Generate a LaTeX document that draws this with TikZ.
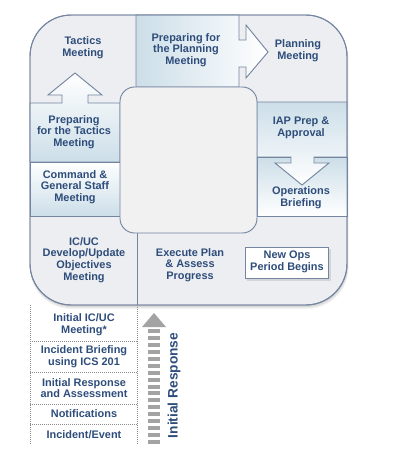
\documentclass[tikz,border=0pt]{standalone}
\usepackage{fontspec}
\setmainfont{Liberation Sans}
\definecolor{txt}{HTML}{2E4D7B}
\definecolor{edge}{HTML}{7485A0}
\definecolor{bg}{HTML}{EDEEF1}
\definecolor{innerc}{HTML}{F1F1F2}
\definecolor{lblue}{HTML}{CCDEE8}
\definecolor{arr}{HTML}{A3A3A3}
\definecolor{dotc}{HTML}{8C8C8C}
\begin{document}
\begin{tikzpicture}[x=0.75pt,y=-0.75pt,
  lbl/.style={text=txt,font=\fontsize{8.2}{8.8}\selectfont\bfseries,align=center,inner sep=0pt},
  edgeline/.style={draw=edge,line width=0.7pt},
  shadebox/.style={edgeline,top color=white,bottom color=lblue},
  shadeboxdown/.style={edgeline,top color=lblue,bottom color=white},
  dotline/.style={draw=dotc,line width=0.5pt,dash pattern=on 0.6pt off 0.9pt}]
\useasboundingbox (0,0) rectangle (396,459);
% soft shadow of the outer shape
\foreach \o/\op in {4/0.04,3/0.05,2/0.06,1/0.07}
  \fill[black,opacity=\op,rounded corners=31pt] (30,{15+\o}) rectangle ({347+\o*0.4},{305+\o});
% outer rounded square
\path[edgeline,fill=bg,rounded corners=31pt] (30,15) rectangle (347,305);
% Operations Briefing box (under the IAP arrow)
\path[shadeboxdown] (257,157) rectangle (347,216);
% IAP Prep box with down arrow
\path[shadeboxdown] (257,102) -- (347,102) -- (347,157) -- (314,157) -- (314,163) -- (329,163)
  -- (302,185) -- (275,163) -- (291,163) -- (291,157) -- (257,157) -- cycle;
% Preparing for the Planning Meeting, with right arrow
\path[edgeline,left color=lblue,right color=white] (136,15) -- (239,15) -- (239,40) -- (246,40) -- (246,25)
  -- (268,52) -- (246,78) -- (246,67) -- (239,67) -- (239,87) -- (136,87) -- cycle;
% Command & General Staff box
\path[shadebox] (30,162) rectangle (120,216);
% Preparing for the Tactics Meeting with up arrow
\path[shadebox] (30,162) -- (30,103) -- (62,103) -- (62,95) -- (48,95) -- (75,73) -- (102,95)
  -- (88,95) -- (88,103) -- (120,103) -- (120,162) -- cycle;
% inner rounded square
\path[edgeline,fill=innerc,rounded corners=11pt] (120,87) rectangle (257,233);
% divider under inner square
\draw[edgeline] (137,233) -- (137,305);
% redraw outer border on top
\path[edgeline,rounded corners=31pt] (30,15) rectangle (347,305);
% New Ops box
\fill[black,opacity=0.10] (247,249) rectangle (331,281);
\node[edgeline,fill=white,minimum width=83*0.75pt,minimum height=31*0.75pt,inner sep=0pt] (newops) at (286.5,262.5) {};
\node[lbl] (newopst) at (287,262) {New Ops\\Period Begins};
% labels
\node[lbl] (tactics) at (83,48) {Tactics\\Meeting};
\node[lbl] (prepplan) at (186,50) {Preparing for\\the Planning\\Meeting};
\node[lbl] (planning) at (298,51) {Planning\\Meeting};
\node[lbl] (iap) at (301,127.5) {IAP Prep \&\\Approval};
\node[lbl] (ops) at (301,198) {Operations\\Briefing};
\node[lbl] (preptac) at (74,132) {Preparing\\for the Tactics\\Meeting};
\node[lbl] (cgs) at (75,187) {Command \&\\General Staff\\Meeting};
\node[lbl] (icuc) at (84,260) {IC/UC\\Develop/Update\\Objectives\\Meeting};
\node[lbl] (execute) at (190,265) {Execute Plan\\\& Assess\\Progress};
% initial response stack
\draw[dotline] (30,305) -- (30,445);
\draw[dotline] (137,305) -- (137,445);
\foreach \yy in {341,372,404,424} \draw[dotline] (30,\yy) -- (137,\yy);
\node[lbl] (initic) at (84,325) {Initial IC/UC\\Meeting*};
\node[lbl] (briefing) at (84,357) {Incident Briefing\\using ICS 201};
\node[lbl] (initresp) at (84,388) {Initial Response\\and Assessment};
\node[lbl] (notif) at (84,414) {Notifications};
\node[lbl] (event) at (84,435) {Incident/Event};
% dashed gray arrow
\coordinate (abot) at (154,444);
\coordinate (atop) at (154,327);
\draw[arr,line width=8.3pt,dash pattern=on 3pt off 2.2pt] (abot) -- (atop);
\fill[arr] (142,327) -- (154,313) -- (166,327) -- cycle;
\node[text=txt,font=\fontsize{10.3}{11}\selectfont\bfseries,rotate=90,inner sep=0pt] (irlabel) at (174,385.5) {Initial Response};
\end{tikzpicture}
\end{document}
